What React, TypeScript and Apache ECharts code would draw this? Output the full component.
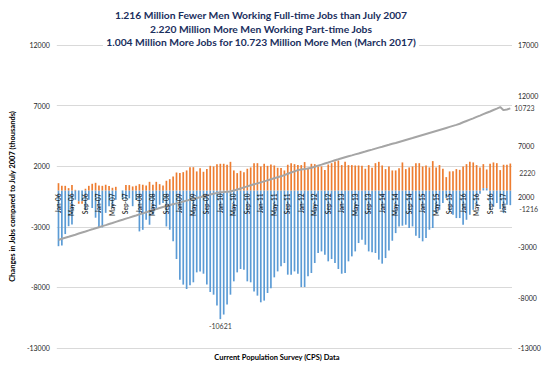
import React, { useEffect, useRef } from 'react';
import * as echarts from 'echarts';

const monthNames = ['Jan', 'Feb', 'Mar', 'Apr', 'May', 'Jun', 'Jul', 'Aug', 'Sep', 'Oct', 'Nov', 'Dec'];
const startYear = 6;
const monthCount = 135;
const categories: string[] = Array.from({ length: monthCount }, (_, i) =>
  `${monthNames[i % 12]}-${String(startYear + Math.floor(i / 12)).padStart(2, '0')}`
);
const labelEvery = 4;

// Full-time jobs change vs July 2007 (thousands)
const fullTime = [
  -4600, -4550, -3600, -2950, -2800, -770, -900, -900, -1600, -770, -1450, -2250,
  -3100, -3050, -1850, -1300, -1450, -770, 0, -700, -750, -650, -1300, -780,
  -3380, -3250, -2420, -2830, -2000, -1600, -1180, -1040, -2970, -3240, -4200, -5660,
  -7360, -7770, -8130, -7830, -7580, -6760, -6680, -6870, -7770, -8380, -8600, -9500,
  -10621, -10240, -9420, -8600, -7500, -6760, -6480, -6540, -7500, -7580, -8330, -8680,
  -9230, -9090, -8460, -8080, -7170, -6680, -6260, -5990, -6950, -6950, -6680, -6870,
  -7970, -7970, -7090, -6810, -5990, -5160, -5030, -5300, -5850, -5660, -5990, -6480,
  -6870, -6810, -5850, -5440, -5030, -4340, -4070, -4480, -5030, -5110, -5160, -5710,
  -6040, -5580, -4950, -4150, -3520, -2970, -2910, -2830, -3100, -2970, -3740, -3930,
  -4200, -3930, -3240, -3100, -1870, -1600, -1040, -630, -1740, -2000, -2280, -2280,
  -2830, -2420, -2000, -1600, -1260, -270, 190, 190, -1600, -1320, -1040, -1540,
  -1870, -1180, -1216,
];

// Part-time jobs change vs July 2007 (thousands)
const partTime = [
  600, 380, 380, 190, 440, 50, -200, -200, 140, 380, 550, 630,
  410, 380, 470, 360, 220, 300, 0, 0, 440, 440, 330, 380,
  520, 470, 410, 710, 470, 710, 520, 410, 800, 930, 1150, 1480,
  1430, 1510, 1650, 1920, 1920, 1570, 1840, 1540, 1760, 2030, 1980, 2170,
  2200, 2200, 2120, 2360, 1650, 1430, 1620, 1510, 1790, 1900, 2250, 2250,
  1980, 2200, 2030, 2140, 2060, 1870, 1860, 1650, 2120, 2250, 2170, 2090,
  2090, 2340, 1870, 2200, 2170, 1980, 1980, 1680, 2140, 2250, 2390, 2470,
  2090, 2360, 2090, 2090, 2060, 2060, 2030, 1790, 2090, 1870, 2250, 2360,
  2060, 1760, 1980, 1650, 1650, 1840, 2310, 1760, 1900, 1980, 2250, 2250,
  1980, 2060, 1900, 2420, 1900, 2090, 1790, 1100, 1570, 1590, 1760, 1700,
  1980, 2170, 2360, 2310, 2090, 1900, 1980, 1540, 2200, 2310, 2250, 1680,
  2120, 2120, 2220,
];

// Change in men (population) vs July 2007 (thousands), right axis
const menChange = [
  -2300, -2190, -2090, -1990, -1880, -1780, -1670, -1560, -1460, -1350, -1250, -1140,
  -1040, -930, -830, -720, -620, -510, -400, -300, -190, -90, 20, 120,
  230, 330, 440, 540, 650, 750, 860, 960, 1060, 1150, 1240, 1320,
  1420, 1500, 1590, 1680, 1760, 1850, 1930, 2020, 2110, 2190, 2280, 2360,
  2430, 2440, 2460, 2500, 2600, 2700, 2800, 2900, 3000, 3110, 3210, 3300,
  3400, 3500, 3600, 3700, 3800, 3900, 4000, 4120, 4250, 4370, 4490, 4610,
  4680, 4720, 4770, 4850, 4950, 5060, 5160, 5270, 5370, 5480, 5590, 5680,
  5780, 5880, 5980, 6070, 6170, 6260, 6360, 6450, 6550, 6640, 6740, 6840,
  6930, 7030, 7120, 7220, 7300, 7400, 7500, 7600, 7700, 7790, 7890, 7990,
  8090, 8190, 8290, 8390, 8490, 8590, 8690, 8790, 8890, 8990, 9090, 9200,
  9350, 9480, 9610, 9740, 9880, 10010, 10150, 10290, 10420, 10560, 10700, 10850,
  10550, 10620, 10723,
];

const titleLines = [
  '1.216 Million Fewer Men Working Full-time Jobs than July 2007',
  '2.220 Million More Men Working Part-time Jobs',
  '1.004 Million More Jobs for 10.723 Million More Men (March 2017)',
];
const yAxisTitle = 'Changes in Jobs compared to July 2007 (thousands)';
const xAxisTitle = 'Current Population Survey (CPS) Data';

const FONT = 'Lato, "Liberation Sans", sans-serif';
const TICK_COLOR = '#262626';

export default function App() {
  const ref = useRef<HTMLDivElement>(null);
  useEffect(() => {
    if (!ref.current) return;
    const chart = echarts.init(ref.current, null, { renderer: 'svg' });
    const minIdx = fullTime.indexOf(Math.min(...fullTime));
    const lastIdx = fullTime.length - 1;
    const dataLabel = { color: '#404040', fontSize: 7, fontFamily: FONT };
    const fullData = fullTime.map((v, i) => {
      if (i === minIdx) {
        return { value: v, label: { show: true, position: 'outside', distance: 3, ...dataLabel } };
      }
      if (i === lastIdx) {
        return { value: v, label: { show: true, position: 'right', offset: [3, 11], ...dataLabel } };
      }
      return v;
    });
    const partData = partTime.map((v, i) => {
      if (i === partTime.length - 1) {
        return { value: v, label: { show: true, position: 'right', offset: [3, -4], ...dataLabel } };
      }
      return v;
    });
    const monthLabelPoints = categories
      .map((c, i) => [i, 0])
      .filter((p) => p[0] % labelEvery === 0);
    chart.setOption({
      animation: false,
      backgroundColor: '#ffffff',
      textStyle: { fontFamily: FONT },
      grid: { left: 43, right: 34, top: 45, bottom: 26 },
      graphic: [
        {
          type: 'text',
          x: 261,
          y: 8,
          z: 100,
          style: {
            text: titleLines.join('\n'),
            fill: '#1B2F5E',
            font: `bold 10.3px ${FONT}`,
            textAlign: 'center',
            textVerticalAlign: 'top',
            lineHeight: 13.7,
            backgroundColor: '#ffffff',
            padding: [0, 3, 0, 3],
          },
        },
        {
          type: 'text',
          x: 277,
          y: 357,
          style: {
            text: xAxisTitle,
            fill: '#000000',
            font: `bold 7.5px ${FONT}`,
            textAlign: 'center',
            textVerticalAlign: 'middle',
          },
        },
      ],
      xAxis: {
        type: 'category',
        data: categories,
        axisLine: { show: false },
        axisTick: { show: false },
        axisLabel: { show: false },
        splitLine: { show: false },
      },
      yAxis: [
        {
          type: 'value',
          position: 'left',
          min: -13000,
          max: 12000,
          interval: 5000,
          name: yAxisTitle,
          nameLocation: 'middle',
          nameRotate: 90,
          nameGap: 30,
          nameTextStyle: { fontSize: 7.5, fontWeight: 'bold', color: '#000000', fontFamily: FONT },
          axisLine: { show: false },
          axisTick: { show: false },
          axisLabel: { fontSize: 7, color: TICK_COLOR, margin: 7, fontFamily: FONT, formatter: (v: number) => String(v) },
          splitLine: { show: true, lineStyle: { color: '#d9d9d9', width: 1 } },
        },
        {
          type: 'value',
          position: 'right',
          min: -13000,
          max: 17000,
          interval: 5000,
          axisLine: { show: false },
          axisTick: { show: false },
          axisLabel: { fontSize: 7, color: TICK_COLOR, margin: 6, fontFamily: FONT, formatter: (v: number) => String(v) },
          splitLine: { show: false },
        },
      ],
      series: [
        {
          name: 'Full-time',
          type: 'bar',
          stack: 'jobs',
          yAxisIndex: 0,
          barWidth: '50%',
          itemStyle: { color: '#5B9BD5' },
          data: fullData,
        },
        {
          name: 'Part-time',
          type: 'bar',
          stack: 'jobs',
          yAxisIndex: 0,
          barWidth: '50%',
          itemStyle: { color: '#ED7D31' },
          data: partData,
        },
        {
          name: 'Men',
          type: 'line',
          yAxisIndex: 1,
          showSymbol: false,
          symbol: 'none',
          lineStyle: { color: '#A5A5A5', width: 2 },
          itemStyle: { color: '#A5A5A5' },
          endLabel: { show: true, distance: 4, fontSize: 7, color: '#404040', fontFamily: FONT },
          data: menChange,
          z: 3,
        },
        {
          name: 'Month labels',
          type: 'scatter',
          yAxisIndex: 0,
          symbolSize: 0,
          silent: true,
          z: 4,
          data: monthLabelPoints,
          label: {
            show: true,
            position: 'bottom',
            distance: 3,
            rotate: 90,
            align: 'right',
            verticalAlign: 'middle',
            fontSize: 6.5,
            fontWeight: 'bold',
            color: '#000000',
            fontFamily: FONT,
            formatter: (p: any) => categories[p.value[0]],
          },
        },
      ],
    });
    return () => chart.dispose();
  }, []);
  return <div ref={ref} style={{ position: 'fixed', left: 0, top: 0, width: 546, height: 374 }} />;
}
